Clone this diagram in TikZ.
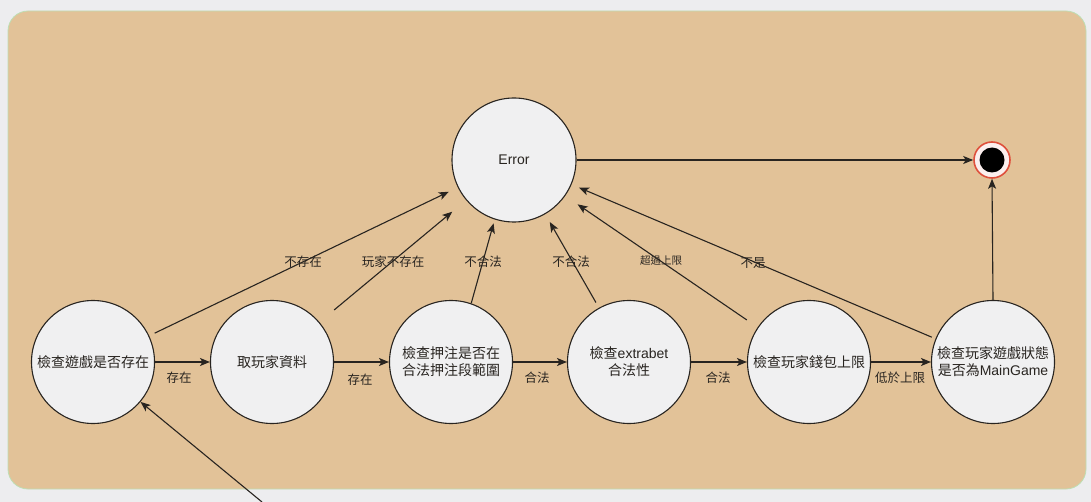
\documentclass[tikz,border=0pt]{standalone}
\usepackage{fontspec}
\setmainfont{Noto Sans CJK TC}
\newfontfamily\lat{Liberation Sans}
\usetikzlibrary{arrows.meta}
\definecolor{pagebg}{RGB}{237,237,239}
\definecolor{panel}{RGB}{226,194,152}
\definecolor{panelrim}{RGB}{190,222,180}
\definecolor{statefill}{RGB}{240,240,241}
\definecolor{ink}{RGB}{40,36,32}
\definecolor{endred}{RGB}{222,80,60}
\tikzset{
  state/.style={circle, draw=ink, line width=1.1pt, fill=statefill,
    minimum size=123pt, inner sep=0pt, align=center, text=ink,
    font=\fontsize{14}{17}\selectfont},
  flow/.style={draw=ink, line width=1.1pt,
    -{Stealth[length=10pt,width=8pt,inset=2.5pt]}},
  elabel/.style={text=ink, font=\fontsize{12.5}{14}\selectfont, inner sep=0pt},
}
\begin{document}
\begin{tikzpicture}[x=1pt,y=-1pt]
  \useasboundingbox (0,0) rectangle (1091,502);
  \fill[pagebg] (0,0) rectangle (1091,502);
  \draw[panelrim, fill=panel, line width=0.8pt, rounded corners=20pt] (8,11) rectangle (1086,489);

  % states
  \node[state] (A) at (93,362) {檢查遊戲是否存在};
  \node[state] (B) at (272,362) {取玩家資料};
  \node[state] (C) at (451,362) {檢查押注是否在\\合法押注段範圍};
  \node[state] (D) at (629,362) {檢查{\lat extrabet}\\合法性};
  \node[state] (E) at (809,362) {檢查玩家錢包上限};
  \node[state] (F) at (993,362) {檢查玩家遊戲狀態\\是否為{\lat MainGame}};
  \node[state, minimum size=124pt, font=\fontsize{14}{17}\selectfont\lat] (Err) at (514,160) {Error};

  % final state
  \node[circle, draw=endred, line width=1.6pt, fill=statefill!60!endred!20, minimum size=36pt, inner sep=0pt] (End) at (992,160) {};
  \fill[black] (End.center) circle (12.5pt);

  % entry
  \coordinate (start) at (262,502);
  \draw[flow] (start) -- (A.320);

  % main chain
  \draw[flow] (A.east) -- (B.west);
  \draw[flow] (B.east) -- (C.west);
  \draw[flow] (C.east) -- (D.west);
  \draw[flow] (D.east) -- (E.west);
  \draw[flow] (E.east) -- (F.west);
  \node[elabel] (lab1) at (179,378) {存在};
  \node[elabel] (lab2) at (360,380) {存在};
  \node[elabel] (lab3) at (537,378) {合法};
  \node[elabel] (lab4) at (718,378) {合法};
  \node[elabel] (lab5) at (900,378) {低於上限};

  % failures to Error
  \draw[flow, shorten <=6pt, shorten >=10pt] (A.25) -- (Err.206);
  \draw[flow, shorten <=19pt, shorten >=18pt] (B.40) -- (Err.220);
  \draw[flow, shorten >=4pt] (C.71) -- (Err.252);
  \draw[flow, shorten <=6pt, shorten >=9pt] (D.119) -- (Err.300);
  \draw[flow, shorten <=13pt, shorten >=15pt] (E.146) -- (Err.325);
  \draw[flow, shorten <=4pt, shorten >=8pt] (F.158) -- (Err.337);
  \node[elabel] (lab6) at (303,262) {不存在};
  \node[elabel] (lab7) at (393,262) {玩家不存在};
  \node[elabel] (lab8) at (483,262) {不合法};
  \node[elabel] (lab9) at (571,262) {不合法};
  \node[elabel, font=\fontsize{10.5}{12}\selectfont] (lab10) at (661,261) {超過上限};
  \node[elabel] (lab11) at (753,263) {不是};

  % to final state
  \draw[flow] (Err.east) -- (End.west);
  \draw[flow] (F.north) -- (End.south);
\end{tikzpicture}
\end{document}
